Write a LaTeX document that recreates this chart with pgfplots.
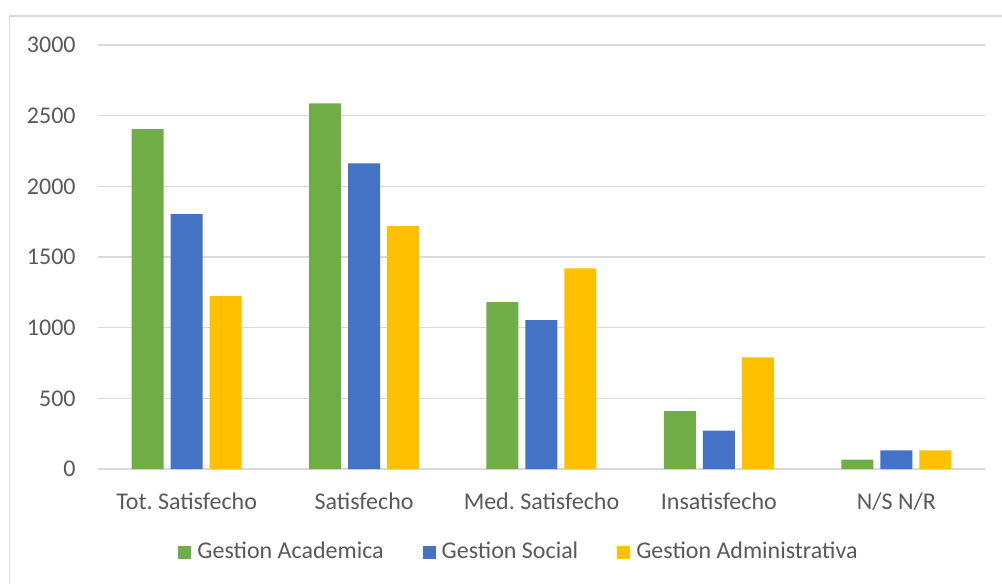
\documentclass[border=0pt]{standalone}
\usepackage{fontspec}
\setmainfont{Carlito}
\usepackage{pgfplots}
\pgfplotsset{compat=1.18}

\definecolor{ga}{HTML}{70AD47}
\definecolor{gs}{HTML}{4472C4}
\definecolor{gad}{HTML}{FFC000}
\definecolor{gridgray}{HTML}{D9D9D9}
\definecolor{labelgray}{HTML}{595959}

\pgfplotsset{
  sqlegend/.style={legend image code/.code={\fill (0pt,-3.25pt) rectangle (6.5pt,3.25pt);}}
}

\begin{document}
\frenchspacing
\begin{tikzpicture}
\useasboundingbox (-49pt,-57.5pt) rectangle (452pt,234.5pt);
\draw[gridgray, line width=0.8pt] (-44.25pt,-70pt) -- (-44.25pt,226.5pt) -- (470pt,226.5pt);
\begin{axis}[
  at={(0,0)}, anchor=south west,
  scale only axis, width=443.5pt, height=212pt,
  ybar=3.5pt, bar width=16pt,
  xmin=-0.5, xmax=4.5, ymin=0, ymax=3000,
  xtick=data,
  xticklabels={Tot. Satisfecho, Satisfecho, Med. Satisfecho, Insatisfecho, N/S N/R},
  ytick={0,500,...,3000},
  ymajorgrids, major grid style={draw=gridgray, line width=0.6pt},
  axis line style={draw=none}, major tick length=0pt,
  tick label style={font=\fontsize{12}{14}\selectfont, text=labelgray},
  yticklabel style={anchor=east, inner sep=0pt, xshift=-11pt},
  xticklabel style={anchor=base, inner sep=0pt, yshift=-20.4pt},
  /pgf/number format/assume math mode=true,
  /pgf/number format/1000 sep={},
  scaled y ticks=false,
  legend columns=3,
  legend style={at={(0.4735,-0.1958)}, anchor=center, draw=none, fill=none,
    font=\fontsize{12}{14}\selectfont, text=labelgray,
    /tikz/every odd column/.append style={column sep=3pt},
    /tikz/every even column/.append style={column sep=19.5pt},
    nodes={inner sep=0pt}},
]
\addplot[fill=ga, draw=none, sqlegend] coordinates {(0,2405) (1,2587) (2,1181) (3,410) (4,66)};
\addplot[fill=gs, draw=none, sqlegend] coordinates {(0,1804) (1,2163) (2,1053) (3,272) (4,132)};
\addplot[fill=gad, draw=none, sqlegend] coordinates {(0,1224) (1,1719) (2,1420) (3,790) (4,132)};
\legend{Gestion Academica, Gestion Social, Gestion Administrativa}
\end{axis}
\end{tikzpicture}
\end{document}
